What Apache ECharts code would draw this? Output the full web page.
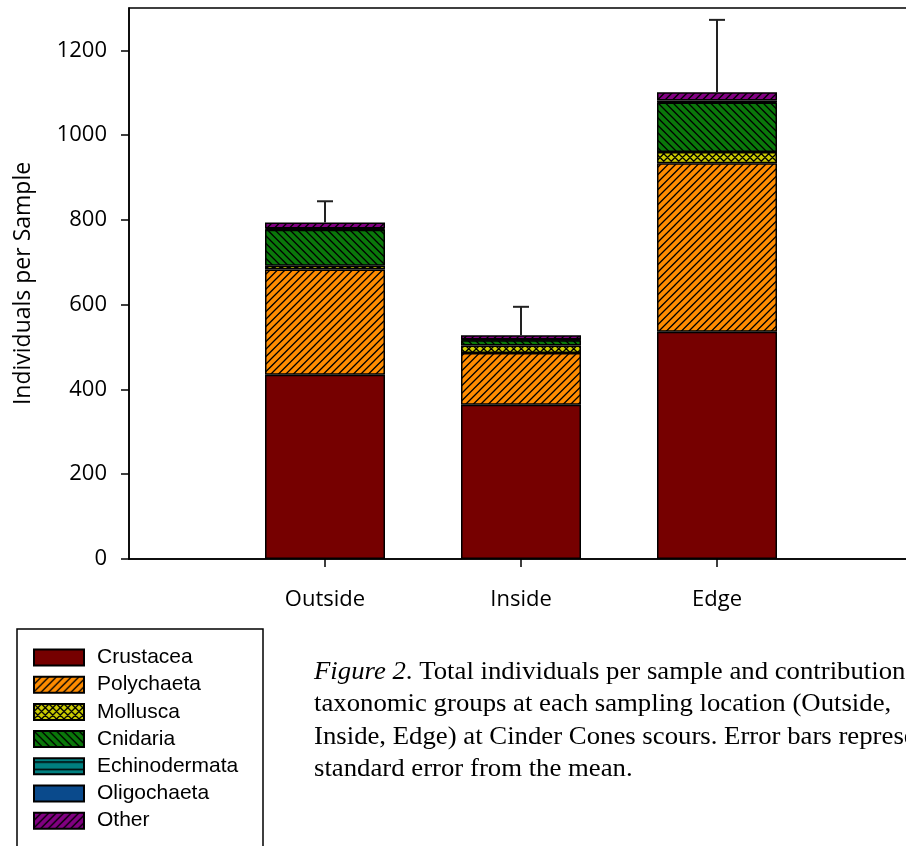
<!DOCTYPE html>
<html>
<head>
<meta charset="utf-8">
<script src="https://cdn.jsdelivr.net/npm/echarts@6/dist/echarts.min.js"></script>
<style>
html,body{margin:0;padding:0;background:#fff;}
#chart{width:906px;height:846px;}
</style>
</head>
<body>
<div id="chart"></div>
<script>
// ---- Data ----
const categories = ['Outside', 'Inside', 'Edge'];
const groupNames = ['Crustacea', 'Polychaeta', 'Mollusca', 'Cnidaria', 'Echinodermata', 'Oligochaeta', 'Other'];
const crustacea = [435, 364, 536];
const polychaeta = [248, 122, 398];
const mollusca = [9, 18, 26];
const cnidaria = [85, 12, 117];
const echinodermata = [1, 1, 1];
const oligochaeta = [2, 1, 4];
const other = [14, 10, 19];
const standardError = [50, 67, 171];
const yTickValues = [0, 200, 400, 600, 800, 1000, 1200];
const captionLines = [
  ['{i|Figure 2}', '{n|. Total individuals per sample and contribution}'],
  ['{n|taxonomic groups at each sampling location (Outside,}'],
  ['{n|Inside, Edge) at Cinder Cones scours. Error bars represent}'],
  ['{n|standard error from the mean.}']
];

// ---- Patterns ----
function makePattern(bg, type) {
  const s = 7.5;
  const n = 15;
  const c = document.createElement('canvas');
  c.width = n; c.height = n;
  const g = c.getContext('2d');
  g.fillStyle = bg;
  g.fillRect(0, 0, n, n);
  g.strokeStyle = '#000';
  g.lineWidth = 1.3;
  g.beginPath();
  if (type === 'fwd' || type === 'cross') {
    for (let k = -2; k <= 4; k++) {
      const o = k * s;
      g.moveTo(o - 2, n + 2); g.lineTo(o + n + 2, -2);
    }
  }
  if (type === 'back' || type === 'cross') {
    for (let k = -4; k <= 2; k++) {
      const o = k * s;
      g.moveTo(o - 2, -2); g.lineTo(o + n + 2, n + 2);
    }
  }
  if (type === 'horiz') {
    g.moveTo(0, 3.75); g.lineTo(n, 3.75);
    g.moveTo(0, 11.25); g.lineTo(n, 11.25);
  }
  g.stroke();
  return { image: c, repeat: 'repeat' };
}

const styles = [
  '#760000',
  makePattern('#ff8c00', 'fwd'),
  makePattern('#cccc00', 'cross'),
  makePattern('#0a780a', 'back'),
  makePattern('#008080', 'horiz'),
  '#0a4a8c',
  makePattern('#820082', 'fwd')
];
const values = [crustacea, polychaeta, mollusca, cnidaria, echinodermata, oligochaeta, other];

const xData = [''].concat(categories, ['']);
const totals = categories.map((_, i) => values.reduce((s, arr) => s + arr[i], 0));

const barSeries = groupNames.map((name, k) => ({
  name: name,
  type: 'bar',
  stack: 'total',
  barWidth: 120,
  data: [null].concat(values[k], [null]),
  itemStyle: { color: styles[k], borderColor: '#000', borderWidth: 1.5 },
  emphasis: { disabled: true },
  animation: false
}));

const errorSeries = {
  type: 'custom',
  name: 'SE',
  data: categories.map((c, i) => [i + 1, totals[i], standardError[i]]),
  encode: { x: 0, y: 1 },
  z: 10,
  animation: false,
  renderItem: function (params, api) {
    const x = api.value(0), t = api.value(1), se = api.value(2);
    const p0 = api.coord([x, t]);
    const p1 = api.coord([x, t + se]);
    const st = { stroke: '#222', lineWidth: 2 };
    return {
      type: 'group',
      children: [
        { type: 'line', shape: { x1: p0[0], y1: p0[1], x2: p1[0], y2: p1[1] }, style: st },
        { type: 'line', shape: { x1: p1[0] - 8, y1: p1[1], x2: p1[0] + 8, y2: p1[1] }, style: st }
      ]
    };
  }
};

const chart = echarts.init(document.getElementById('chart'), null, { renderer: 'canvas' });
chart.setOption({
  backgroundColor: '#fff',
  animation: false,
  grid: {
    left: 129, top: 8, right: -7, bottom: 287,
    containLabel: false,
    outerBoundsMode: 'none',
    show: true, borderColor: '#000', borderWidth: 1.5, backgroundColor: 'transparent'
  },
  xAxis: {
    type: 'category',
    data: xData,
    boundaryGap: false,
    axisLine: { lineStyle: { color: '#000', width: 1.5 } },
    axisTick: { show: true, length: 8, interval: function (i) { return i >= 1 && i <= categories.length; }, lineStyle: { color: '#000', width: 1.5 } },
    axisLabel: { interval: 0, margin: 30, fontFamily: 'Open Sans', fontSize: 22, color: '#000' },
    splitLine: { show: false }
  },
  yAxis: {
    type: 'value',
    min: 0, max: 1300, interval: 200,
    name: 'Individuals per Sample',
    nameLocation: 'middle',
    nameGap: 94,
    nameTextStyle: { fontFamily: 'Open Sans', fontSize: 23, color: '#000' },
    axisLine: { show: true, lineStyle: { color: '#000', width: 1.5 } },
    axisTick: { show: true, length: 8, customValues: yTickValues, lineStyle: { color: '#000', width: 1.5 } },
    axisLabel: { customValues: yTickValues, formatter: function (v) { return String(v); }, margin: 22, fontFamily: 'Open Sans', fontSize: 22, color: '#000' },
    splitLine: { show: false }
  },
  legend: {
    data: groupNames,
    orient: 'vertical',
    left: 33, top: 647,
    padding: 0,
    itemWidth: 50, itemHeight: 16, itemGap: 6.2,
    icon: 'rect',
    selectedMode: false,
    textStyle: { fontFamily: 'Liberation Sans', fontSize: 21, color: '#000', padding: [0, 0, 0, 8] }
  },
  graphic: [{
    type: 'rect',
    shape: { x: 17, y: 629, width: 246, height: 240 },
    style: { fill: 'none', stroke: '#000', lineWidth: 1.5 },
    silent: true
  }, {
    type: 'text',
    x: 314, y: 656,
    scaleX: 1.07,
    style: {
      text: captionLines.map(l => l.join('')).join('\n'),
      rich: {
        i: { fontFamily: 'Liberation Serif', fontSize: 25, fontStyle: 'italic', lineHeight: 32.5, fill: '#000' },
        n: { fontFamily: 'Liberation Serif', fontSize: 25, lineHeight: 32.5, fill: '#000' }
      },
      fill: '#000'
    }
  }],
  series: barSeries.concat([errorSeries])
});
</script>
</body>
</html>
